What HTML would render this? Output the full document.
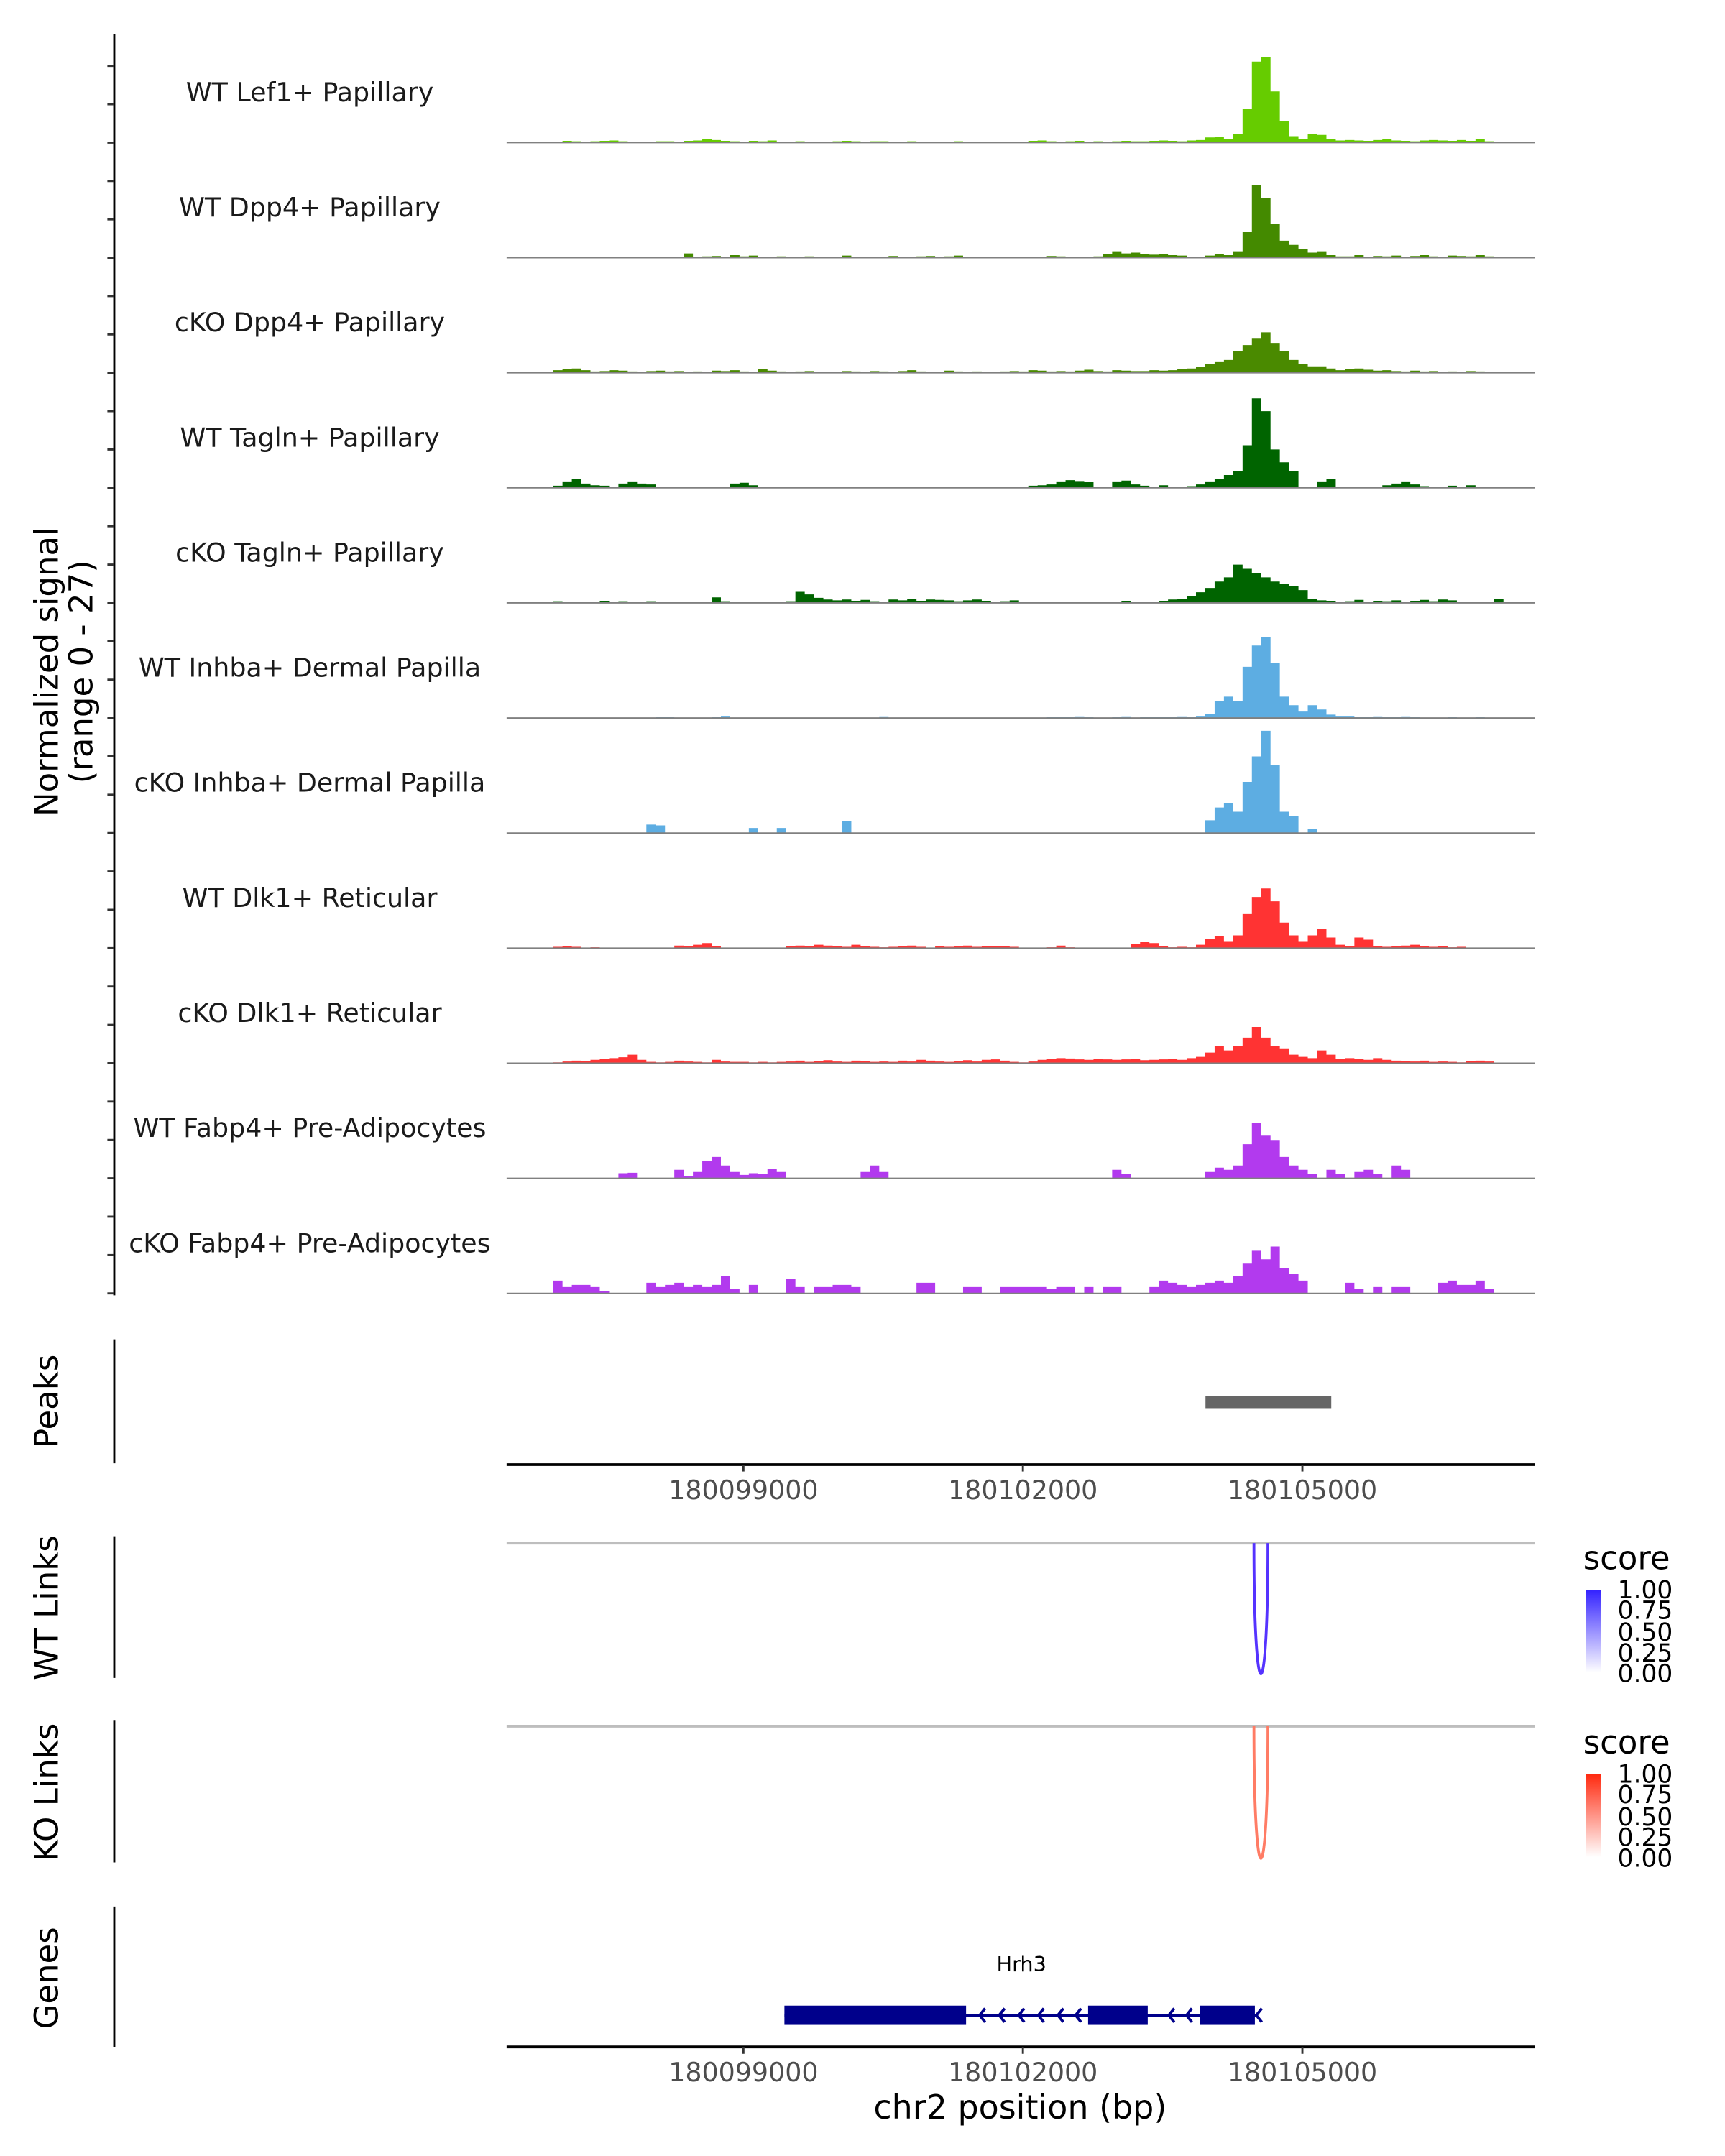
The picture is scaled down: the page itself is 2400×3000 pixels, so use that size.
<!DOCTYPE html>
<html><head><meta charset="utf-8"><style>
html,body{margin:0;padding:0;background:#fff;}
svg{display:block;font-family:"DejaVu Sans","Liberation Sans",sans-serif;}
</style></head><body>
<svg id="chart" width="2400" height="3000" viewBox="0 0 1253 1566.25" xmlns="http://www.w3.org/2000/svg">
<defs>
<linearGradient id="gBlue" x1="0" y1="1" x2="0" y2="0"><stop offset="0" stop-color="#ffffff"/><stop offset="1" stop-color="#3322ff"/></linearGradient>
<linearGradient id="gRed" x1="0" y1="1" x2="0" y2="0"><stop offset="0" stop-color="#ffffff"/><stop offset="1" stop-color="#ff2a10"/></linearGradient>
</defs>
<g id="tracks"></g>
<line x1="83" y1="25" x2="83" y2="941" stroke="#000" stroke-width="1.5"/>
<g id="yticks"></g>
<text transform="translate(42,488) rotate(-90)" text-anchor="middle" font-size="23.5" fill="#000">Normalized signal</text>
<text transform="translate(67,488) rotate(-90)" text-anchor="middle" font-size="23.5" fill="#000">(range 0 - 27)</text>

<line x1="83" y1="973" x2="83" y2="1063" stroke="#000" stroke-width="1.5"/>
<text transform="translate(42,1018) rotate(-90)" text-anchor="middle" font-size="23.5">Peaks</text>
<g id="peaks"></g>
<g id="axis1"></g>

<line x1="83" y1="1116" x2="83" y2="1219" stroke="#000" stroke-width="1.5"/>
<text transform="translate(42,1168) rotate(-90)" text-anchor="middle" font-size="23.5">WT Links</text>
<line x1="368" y1="1121" x2="1115" y2="1121" stroke="#bebebe" stroke-width="2"/>
<g id="wtlinks"></g>
<g>
<text x="1150" y="1140" font-size="23.5">score</text>
<rect x="1152" y="1155" width="11" height="60" fill="url(#gBlue)"/>
<g font-size="18" fill="#000"><text x="1175" y="1161">1.00</text><text x="1175" y="1176">0.75</text><text x="1175" y="1192">0.50</text><text x="1175" y="1207">0.25</text><text x="1175" y="1222">0.00</text></g>
</g>

<line x1="83" y1="1250" x2="83" y2="1353" stroke="#000" stroke-width="1.5"/>
<text transform="translate(42,1302) rotate(-90)" text-anchor="middle" font-size="23.5">KO Links</text>
<line x1="368" y1="1254" x2="1115" y2="1254" stroke="#bebebe" stroke-width="2"/>
<g id="kolinks"></g>
<g>
<text x="1150" y="1274" font-size="23.5">score</text>
<rect x="1152" y="1289" width="11" height="60" fill="url(#gRed)"/>
<g font-size="18" fill="#000"><text x="1175" y="1295">1.00</text><text x="1175" y="1310">0.75</text><text x="1175" y="1326">0.50</text><text x="1175" y="1341">0.25</text><text x="1175" y="1356">0.00</text></g>
</g>

<line x1="83" y1="1385" x2="83" y2="1487" stroke="#000" stroke-width="1.5"/>
<text transform="translate(42,1437) rotate(-90)" text-anchor="middle" font-size="23.5">Genes</text>
<g id="genes"></g>
<g id="axis2"></g>
<text x="741" y="1539" text-anchor="middle" font-size="24">chr2 position (bp)</text>
</svg>
<script>
const NS="http://www.w3.org/2000/svg";
const trackNames=["WT Lef1+ Papillary","WT Dpp4+ Papillary","cKO Dpp4+ Papillary","WT Tagln+ Papillary","cKO Tagln+ Papillary","WT Inhba+ Dermal Papilla","cKO Inhba+ Dermal Papilla","WT Dlk1+ Reticular","cKO Dlk1+ Reticular","WT Fabp4+ Pre-Adipocytes","cKO Fabp4+ Pre-Adipocytes"];
const trackColors=["#66cc00","#448a00","#4a8a00","#006400","#006400","#5dade2","#5dade2","#ff3333","#ff3333","#b23aee","#b23aee"];
const binStart=180096458, binSize=100, yMax=27;
const sLef1=[0,0,0,0,0,.2,.4,.3,.2,.3,.4,.5,.3,.2,.1,.2,.3,.3,.2,.4,.5,.8,.6,.4,.3,.2,.4,.3,.5,.2,.2,.3,.2,.1,.2,.3,.4,.3,.2,.3,.3,.2,.2,.3,.2,.1,.2,.2,.3,.2,.2,.2,.1,.1,.2,.2,.4,.5,.3,.2,.3,.4,.2,.3,.2,.3,.4,.3,.3,.4,.5,.4,.3,.5,.6,1.2,1.4,.8,2,8,19,20,12,5,1.5,.8,2,1.8,.8,.5,.6,.5,.4,.6,.8,.5,.4,.3,.5,.6,.5,.4,.6,.4,.8,.3,0,0,0,0];
const sWtDpp4=[0,0,0,0,0,0,0,0,0,0,0,0,0,0,0,.2,0,.1,0,1,.2,.3,.4,0,.6,.3,.5,.2,.2,.3,0,.2,.3,.2,0,.2,.5,0,0,0,.2,.4,0,.2,.3,.4,0,.3,.5,0,0,0,0,0,0,0,0,.2,.4,.3,.2,0,0,.3,.8,1.5,1,1.2,.8,.7,.9,.6,.5,0,.2,.5,.8,.6,1.5,6,17,14,8,4,3,2,1.2,1.5,.6,.3,.3,.6,.2,.4,.3,.5,.2,.4,.6,.3,.2,.5,.4,.3,.6,.3,0,0,0,0];
const sKoDpp4=[0,0,0,0,0,.6,.8,1,.6,.3,.4,.6,.5,.3,.2,.4,.5,.3,.4,.2,.3,.2,.5,.4,.6,.3,.2,.8,.5,.3,.2,.3,.4,.2,.1,.2,.4,.3,.2,.4,.3,.2,.4,.6,.3,.2,.2,.5,.3,.2,.3,.2,.2,.3,.4,.3,.6,.5,.3,.4,.3,.5,.7,.4,.3,.6,.5,.4,.4,.6,.5,.6,.8,1,1.3,2,2.5,3,5,6.5,8,9.5,7,5,3,2,1.5,1.5,1,.6,.8,1,.7,.5,.6,.4,.3,.5,.3,.4,.2,.3,.2,.4,.3,.2,0,0,0,0];
const sWtTagln=[0,0,0,0,0,.5,1.5,2,1,.6,.5,.3,1,1.5,1,.8,.3,0,0,0,0,0,0,0,1,1.2,.6,0,0,0,0,0,0,0,0,0,0,0,0,0,0,0,0,0,0,0,0,0,0,0,0,0,0,0,0,0,.5,.6,.8,1.5,1.8,1.6,1.4,0,0,1.5,1.7,.8,.5,0,.6,.2,0,.4,.8,1.5,2,3,4,10,21,18,9,6,4,0,0,1.5,2,.3,0,0,0,0,.6,1,1.5,.8,.4,0,0,.5,0,.6,0,0,0,0,0,0];
const sKoTagln=[0,0,0,0,0,.4,.3,0,0,0,.5,.3,.4,0,0,.4,0,0,0,0,0,0,1.3,.4,0,0,0,.3,0,0,.4,2.6,2,1.2,.8,.6,.8,.5,.7,.4,.3,.8,.6,.9,.5,.8,.7,.6,.4,.6,.8,.5,.3,.4,.6,.3,.3,.2,.3,.2,.2,.2,.3,0,.2,0,.5,0,0,.3,.5,.8,1,1.5,2.5,3.5,5,6,9,8,7,6,5,4.5,4,3,1,.6,.5,.3,.4,.7,.3,.5,.4,.6,.3,.5,.7,.4,.8,.6,0,0,0,0,1,0,0,0];
const sWtInhba=[0,0,0,0,0,0,0,0,0,0,0,0,0,0,0,0,.3,.3,0,0,0,0,.2,.5,0,0,0,0,0,0,0,0,0,0,0,0,0,0,0,0,.4,0,0,0,0,0,0,0,0,0,0,0,0,0,0,0,0,0,.3,.2,.3,.4,.2,0,0,.3,.4,0,.2,.3,.3,.2,.4,.3,.5,1,4,5,4,12,17,19,13,5,3,1.5,3,2,.8,.5,.5,.3,.3,.4,.2,.3,.4,.2,0,0,0,.2,0,0,.3,0,0,0,0,0];
const sKoInhba=[0,0,0,0,0,0,0,0,0,0,0,0,0,0,0,2,1.8,0,0,0,0,0,0,0,0,0,1.2,0,0,1.2,0,0,0,0,0,0,2.8,0,0,0,0,0,0,0,0,0,0,0,0,0,0,0,0,0,0,0,0,0,0,0,0,0,0,0,0,0,0,0,0,0,0,0,0,0,0,3,6,7,5,12,18,24,16,5,4,0,1,0,0,0,0,0,0,0,0,0,0,0,0,0,0,0,0,0,0,0,0,0,0,0];
const sWtDlk1=[0,0,0,0,0,.3,.4,.3,0,.2,0,0,0,0,0,0,0,0,.6,.4,.8,1.2,.5,0,0,0,0,0,0,0,.4,.6,.5,.8,.6,.4,.3,.8,.5,.3,.2,.3,.4,.6,.3,0,.5,.3,.4,.6,.3,.5,.4,.5,.3,0,0,0,.2,.6,.2,0,0,0,0,0,0,1,1.4,1.2,.5,.2,.3,.2,.8,2.2,2.8,1.5,3,8,12,14,11,6,3,1.5,3,4.5,2.5,.8,.5,2.5,2,.4,.3,.4,.6,.8,.4,.3,.4,.2,.3,0,0,0,0,0,0,0];
const sKoDlk1=[0,0,0,0,0,.2,.4,.6,.5,.8,1,1.2,1.4,2,.8,.3,.2,.3,.6,.4,.3,.2,.8,.4,.3,.3,.2,.3,.2,.3,.4,.6,.3,.5,.7,.4,.3,.6,.5,.3,.4,.3,.6,.4,.8,.6,.4,.3,.5,.7,.4,.8,.9,.6,.3,.2,.4,.8,1,1.2,1.1,.9,.8,1,.9,.8,.9,1,.7,.8,.9,1,.8,1.2,1.5,2.5,4,3,4,6,8.5,6,4,3.5,2,1.5,1.2,3,2,1,1.2,1,.8,1.2,.8,.6,.5,.4,.6,.3,.4,.3,.2,.5,.6,.4,0,0,0,0];
const sWtFabp4=[0,0,0,0,0,0,0,0,0,0,0,0,1.2,1.3,0,0,0,0,2,.5,1.5,4,5,3,1.5,.8,1.2,1,2.2,1.5,0,0,0,0,0,0,0,0,1.5,3,1.5,0,0,0,0,0,0,0,0,0,0,0,0,0,0,0,0,0,0,0,0,0,0,0,0,2,1,0,0,0,0,0,0,0,0,1.5,2.5,2,3,8,13,10,9,5,3,2,1,0,2,1,0,1.5,2,1,0,3,2,0,0,0,0,0,0,0,0,0,0,0,0,0];
const sKoFabp4=[0,0,0,0,0,3,1.5,2,2,1.5,.5,0,0,0,0,2.5,1.5,2,2.5,1.5,2,1.5,2,4,1,0,2,0,0,0,3.5,1.5,0,1.5,1.5,2,2,1.5,0,0,0,0,0,0,2.5,2.5,0,0,0,1.5,1.5,0,0,1.5,1.5,1.5,1.5,1.5,1,1.5,1.5,0,1.5,0,1.5,1.5,0,0,0,1.5,3,2.5,2,1.5,2,2.5,3,2.5,4,7,10,8,11,6,4.5,3,0,0,0,0,2.5,1,0,1.5,0,1.5,1.5,0,0,0,2.5,3,2,2,3,1,0,0,0,0];
const trackSignals=[sLef1,sWtDpp4,sKoDpp4,sWtTagln,sKoTagln,sWtInhba,sKoInhba,sWtDlk1,sKoDlk1,sWtFabp4,sKoFabp4];
const xTicks=[180099000,180102000,180105000];
const peakRegions=[[180103960,180105310]];
const linkEnds=[[180104480,180104630]];
const linkScores=[1.0];
const koLinkScores=[0.75];
const geneExons=[[180099440,180101390],[180102700,180103340],[180103900,180104490]];
const geneSpan=[180099440,180104520];
const geneIntronArrows=[180101550,180101760,180101970,180102180,180102390,180102580,180103580,180103770];

const X0=368,X1=1115,BP0=180096458,BP1=180107497;
function xs(bp){return X0+(bp-BP0)*(X1-X0)/(BP1-BP0);}
const trackTop=20, trackH=83.6;
function baseY(i){return trackTop+trackH*(i+1);}
function ys(v,i){return baseY(i)-v/yMax*trackH;}

function mk(tag,attrs,parent){const e=document.createElementNS(NS,tag);for(const k in attrs)e.setAttribute(k,attrs[k]);parent.appendChild(e);return e;}

const tg=document.getElementById('tracks');
trackSignals.forEach((sig,i)=>{
  const b=baseY(i);
  let d="M"+xs(binStart).toFixed(2)+","+b;
  sig.forEach((v,j)=>{
    const xa=xs(binStart+j*binSize), xb=xs(binStart+(j+1)*binSize), y=ys(v,i);
    d+=" L"+xa.toFixed(2)+","+y.toFixed(2)+" L"+xb.toFixed(2)+","+y.toFixed(2);
  });
  d+=" L"+xs(binStart+sig.length*binSize).toFixed(2)+","+b+" Z";
  const p=mk('path',{d:d,fill:trackColors[i]},tg);
  
  
  const l=mk('line',{x1:X0,x2:X1,y1:b,y2:b,stroke:'#808080','stroke-width':1},tg);
  
  
  const t=mk('text',{x:225,y:b-30,'text-anchor':'middle','font-size':19,fill:'#1a1a1a'},tg);
  t.textContent=trackNames[i];
  
  
});
const ytg=document.getElementById('yticks');
for(let k=0;k<=32;k++){
  const y=baseY(0)-2*trackH/3+k*trackH/3;
  const t=mk('line',{x1:78,x2:83,y1:y,y2:y,stroke:'#333','stroke-width':1.5},ytg);
  
  
}
const pg=document.getElementById('peaks');
peakRegions.forEach(r=>{
  const e=mk('rect',{x:xs(r[0]),y:1014,width:xs(r[1])-xs(r[0]),height:9,fill:'#666666'},pg);
  
  
});
function axis(id,y){
  const g=document.getElementById(id);
  const a=mk('line',{x1:X0,x2:X1,y1:y,y2:y,stroke:'#000','stroke-width':2},g);
  
  
  xTicks.forEach(v=>{
    const t=mk('line',{x1:xs(v),x2:xs(v),y1:y,y2:y+5,stroke:'#333','stroke-width':1.5},g);
    
    
    const l=mk('text',{x:xs(v),y:y+25,'text-anchor':'middle','font-size':19,fill:'#4d4d4d'},g);
    l.textContent=v;
    
    
  });
}
axis('axis1',1064);axis('axis2',1487);
function links(id,top,depth,scores,lo,hi){
  const g=document.getElementById(id);
  linkEnds.forEach((e,k)=>{
    const a=xs(e[0]),b=xs(e[1]),s=scores[k];
    const c=[0,1,2].map(j=>Math.round(lo[j]+(hi[j]-lo[j])*s));
    const p=mk('path',{d:`M${a},${top} C${a},${top+depth/0.75} ${b},${top+depth/0.75} ${b},${top}`,fill:'none',stroke:`rgb(${c})`,'stroke-width':2},g);
    
    
  });
}
links('wtlinks',1121,95,linkScores,[255,255,255],[85,51,255]);
links('kolinks',1254,96,koLinkScores,[255,255,255],[255,80,50]);
const gg=document.getElementById('genes');
const gl=mk('line',{x1:xs(geneSpan[0]),x2:xs(geneSpan[1]),y1:1464,y2:1464,stroke:'#00008b','stroke-width':2},gg);


geneExons.forEach(e=>{
  const r=mk('rect',{x:xs(e[0]),y:1457,width:xs(e[1])-xs(e[0]),height:14,fill:'#00008b'},gg);
  
  
});
geneIntronArrows.concat([geneSpan[1]]).forEach(v=>{
  const x=xs(v);
  const p=mk('path',{d:`M${x+3},${1459} L${x-1},${1464} L${x+3},${1469}`,fill:'none',stroke:'#00008b','stroke-width':2},gg);
  
  
});
const gt=mk('text',{x:742,y:1432,'text-anchor':'middle','font-size':15,fill:'#000'},gg);
gt.textContent='Hrh3';


</script>
</body></html>
